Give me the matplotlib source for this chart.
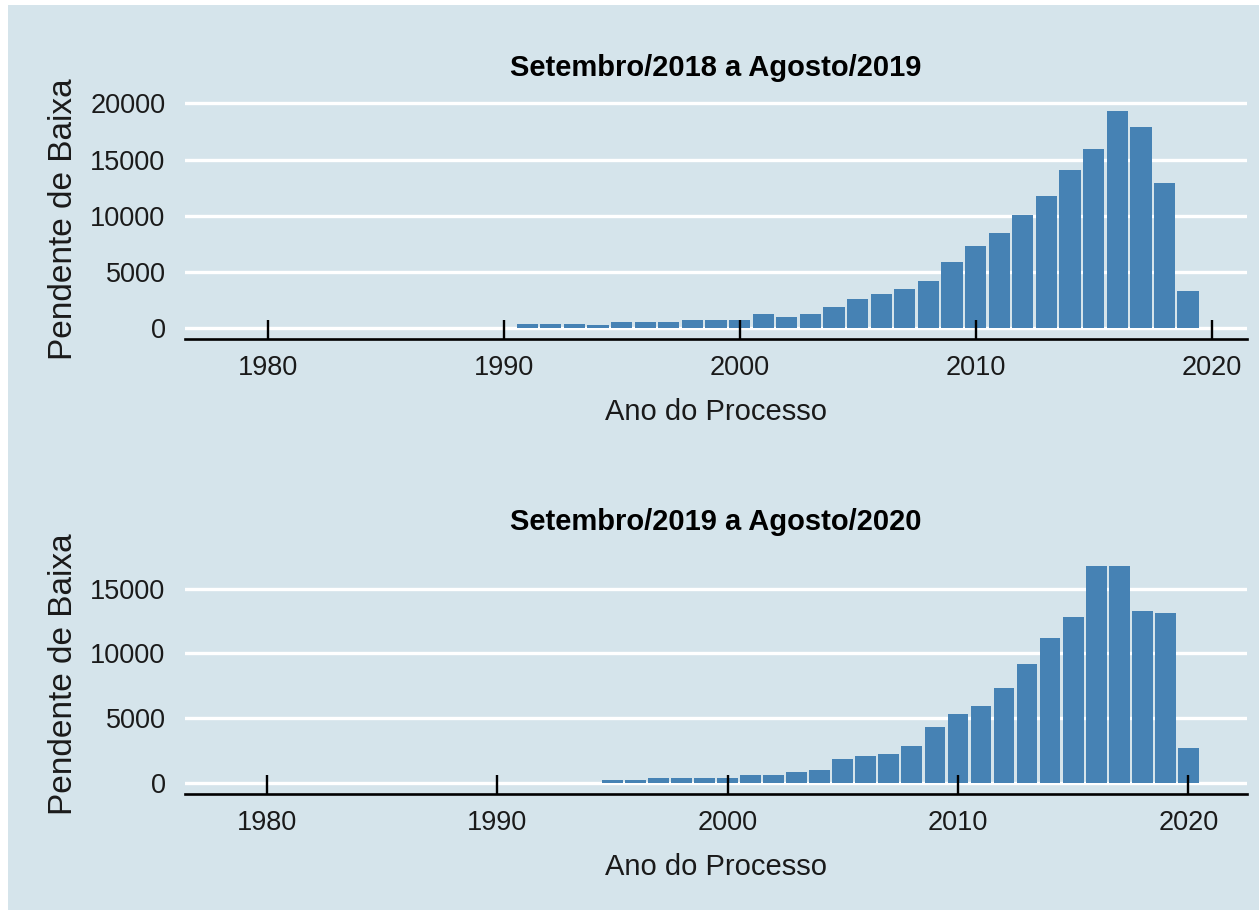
import numpy as np
import matplotlib
matplotlib.use("Agg")
import matplotlib.pyplot as plt
from matplotlib.patches import Rectangle

# =============================================================================
# Data
# =============================================================================
years_1819 = list(range(1979, 2020))
pend_1819 = [0] * 12 + [
    300, 300, 300, 280, 480, 480, 480, 690, 690, 690,      # 1991-2000
    1200, 950, 1200, 1880, 2600, 3040, 3490, 4200, 5850, 7250,  # 2001-2010
    8450, 10060, 11720, 14090, 15970, 19300, 17870, 12950, 3260,  # 2011-2019
]

years_1920 = list(range(1979, 2021))
pend_1920 = [0] * 16 + [
    230, 230, 390, 390, 390, 390,                              # 1995-2000
    620, 620, 800, 1010, 1810, 2040, 2250, 2850, 4280, 5290,   # 2001-2010
    5930, 7350, 9180, 11220, 12850, 16780, 16780, 13290, 13110, 2650,  # 2011-2020
]

titles = ["Setembro/2018 a Agosto/2019", "Setembro/2019 a Agosto/2020"]
x_ticks = [1980, 1990, 2000, 2010, 2020]
y_ticks_top = [0, 5000, 10000, 15000, 20000]
y_ticks_bottom = [0, 5000, 10000, 15000]

# =============================================================================
# Style
# =============================================================================
bg = "#d5e4eb"
bar_color = "#4682b4"
txt = "#1a1a1a"
plt.rcParams["font.family"] = ["Liberation Sans", "DejaVu Sans"]

W, H = 1259, 910
fig = plt.figure(figsize=(W / 100, H / 100), dpi=100, facecolor="white")
# light blue card with a thin white border on the left/top
fig.patches.append(Rectangle((8 / W, 0), 1 - 8 / W, 905 / H, transform=fig.transFigure,
                             facecolor=bg, edgecolor="none", zorder=-10))

ax_top = fig.add_axes([185 / W, 1 - 338.5 / H, 1062 / W, 238 / H])
ax_bot = fig.add_axes([185 / W, 1 - 793.5 / H, 1062 / W, 238.5 / H])

panels = [
    (ax_top, years_1819, pend_1819, titles[0], y_ticks_top),
    (ax_bot, years_1920, pend_1920, titles[1], y_ticks_bottom),
]

for ax, yrs, vals, title, yt in panels:
    yrs = np.array(yrs)
    vals = np.array(vals)
    ax.set_facecolor(bg)
    # grid (z=1) < bars (z=1.2) < axis line + ticks (z=1.5)
    ax.bar(yrs, vals, width=0.9, color=bar_color, zorder=1.2)

    # ggplot-like 5% expansion
    span = (yrs[-1] + 0.45) - (yrs[0] - 0.45)
    ax.set_xlim(yrs[0] - 0.45 - 0.05 * span, yrs[-1] + 0.45 + 0.05 * span)
    ax.set_ylim(-0.05 * vals.max(), 1.05 * vals.max())

    ax.set_xticks(x_ticks)
    ax.set_yticks(yt)
    for v in yt:
        ax.axhline(v, color="white", linewidth=2.4, zorder=1)
    ax.grid(False)
    ax.set_axisbelow("line")

    for side in ["top", "right", "left"]:
        ax.spines[side].set_visible(False)
    ax.spines["bottom"].set_color("black")
    ax.spines["bottom"].set_linewidth(1.9)

    ax.tick_params(axis="x", direction="in", length=14, width=1.7, color="black",
                   labelsize=19.5, labelcolor=txt, pad=12)
    ax.tick_params(axis="y", length=0, labelsize=19.5, labelcolor=txt, pad=14)

    ax.set_xlabel("Ano do Processo", fontsize=21, color=txt, labelpad=12)
    ax.set_ylabel("Pendente de Baixa", fontsize=24, color=txt)
    ax.yaxis.set_label_coords(-0.10, 0.5)
    ax.set_title(title, fontsize=21, fontweight="bold", color="black", pad=18)

fig.savefig("out.png", dpi=100, facecolor=fig.get_facecolor())
